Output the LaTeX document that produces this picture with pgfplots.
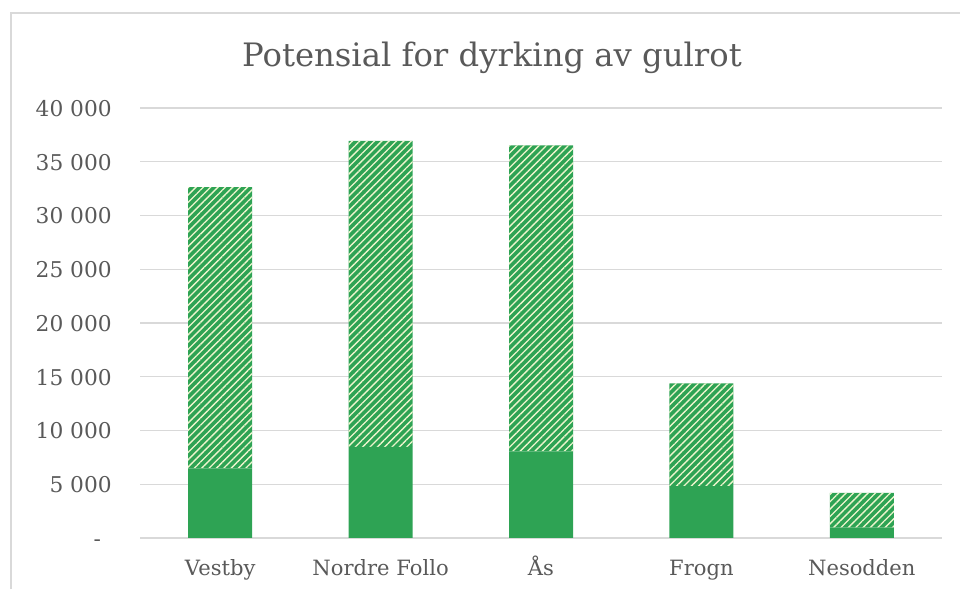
\documentclass[border=0pt]{standalone}
\usepackage{pgfplots}
\pgfplotsset{compat=1.18}
\usepackage{pgfplotstable}
\usetikzlibrary{patterns.meta}
\usepackage{fontspec}
\setmainfont{DejaVu Serif}
\definecolor{barg}{RGB}{46,163,84}
\definecolor{hatchc}{RGB}{238,245,205}
\definecolor{txt}{RGB}{89,89,89}
\definecolor{gridc}{RGB}{217,217,217}

\pgfplotstableread{
x base pot
0 6470 26170
1 8480 28470
2 8050 28470
3 4820 9560
4 970 3220
}\datatable

\begin{document}
\begin{tikzpicture}
\path[use as bounding box] (0,0) rectangle (720pt,441.75pt);
\draw[gridc, line width=0.9pt] (8.25pt,0) -- (8.25pt,432pt) -- (720pt,432pt);
\node[anchor=base, text=txt, font=\fontsize{24.2}{28}\selectfont, inner sep=0pt] at (369pt,391.7pt) {Potensial for dyrking av gulrot};
\begin{axis}[
  at={(105pt,38.25pt)}, anchor=south west,
  scale only axis, width=601.5pt, height=322.5pt,
  ybar stacked, bar width=48pt,
  xmin=-0.5, xmax=4.5, ymin=0, ymax=40000,
  xtick=data,
  xticklabels={Vestby, Nordre Follo, Ås, Frogn, Nesodden},
  ytick={0,5000,10000,15000,20000,25000,30000,35000,40000},
  yticklabels={{-\rule{8pt}{0pt}},{5 000},{10 000},{15 000},{20 000},{25 000},{30 000},{35 000},{40 000}},
  scaled y ticks=false,
  axis line style={draw=none},
  major tick style={draw=none},
  ymajorgrids, major grid style={draw=gridc, line width=0.9pt},
  xticklabel style={anchor=base, inner sep=0pt, yshift=-27.75pt, text=txt, font=\fontsize{15.8}{18}\selectfont},
  yticklabel style={anchor=base east, inner sep=0pt, xshift=-21pt, yshift=-6.3pt, text=txt, font=\fontsize{16.3}{18}\selectfont},
  xticklabel shift=0pt, yticklabel shift=0pt,
]
\addplot[fill=barg, draw=none] table[x=x, y=base] {\datatable};
\addplot[fill=barg, draw=none, postaction={pattern={Lines[angle=45,distance=3.9pt,line width=1pt]}, pattern color=hatchc}] table[x=x, y=pot] {\datatable};
\end{axis}
\end{tikzpicture}
\end{document}
